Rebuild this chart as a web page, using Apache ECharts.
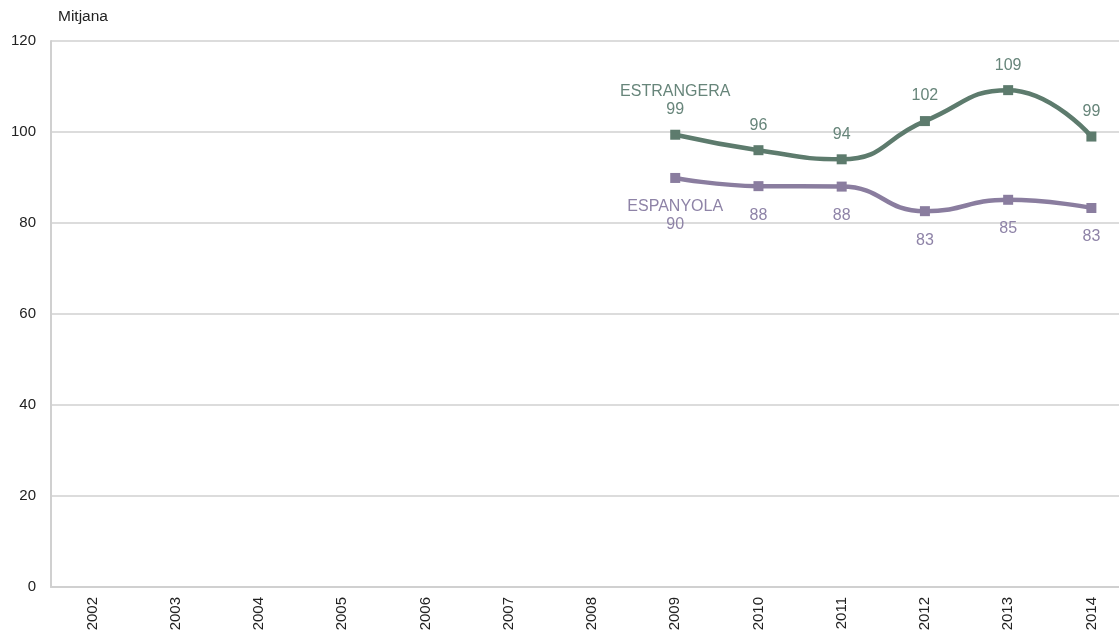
<!DOCTYPE html>
<html>
<head>
<meta charset="utf-8">
<script src="https://cdn.jsdelivr.net/npm/echarts@6/dist/echarts.min.js"></script>
<style>
html,body{margin:0;padding:0;background:#fff;overflow:hidden;}
#chart{width:1140px;height:634px;}
</style>
</head>
<body>
<div id="chart"></div>
<script>
const years = ['2002','2003','2004','2005','2006','2007','2008','2009','2010','2011','2012','2013','2014'];
const estrangera = [null,null,null,null,null,null,null,99.4,96.0,94.0,102.4,109.2,99.0];
const espanyola = [null,null,null,null,null,null,null,89.9,88.1,88.0,82.6,85.1,83.3];
const yTicks = [0,20,40,60,80,100,120];

const FONT = 'Liberation Sans, Arial, sans-serif';
const chart = echarts.init(document.getElementById('chart'));

function firstIdx(arr){ return arr.findIndex(v => v !== null); }

function mkSeries(name, data, lineColor, textColor, pos, dist){
  const fi = firstIdx(data);
  return {
    name: name,
    type: 'line',
    data: data,
    smooth: 0.5,
    connectNulls: false,
    symbol: 'rect',
    symbolSize: 10,
    lineStyle: {width: 4.5, color: lineColor},
    itemStyle: {color: lineColor},
    label: {
      show: true,
      position: pos,
      distance: dist,
      color: textColor,
      fontFamily: FONT,
      fontSize: 16,
      lineHeight: 18,
      align: 'center',
      formatter: p => (p.dataIndex === fi ? name + '\n' : '') + Math.round(p.value)
    },
    emphasis: {disabled: true},
    z: 3
  };
}

chart.setOption({
  animation: false,
  backgroundColor: '#fff',
  grid: {left: 51, top: 41, width: 1082, height: 546, containLabel: false},
  graphic: [{
    type: 'text', left: 58, top: 9,
    style: {text: 'Mitjana', font: '15.5px ' + FONT, fill: '#222'}
  }],
  xAxis: {
    type: 'category',
    data: years,
    boundaryGap: true,
    axisLine: {show: true, lineStyle: {color: '#d0d0d0', width: 2}},
    axisTick: {show: false},
    axisLabel: {rotate: 90, color: '#222', fontFamily: FONT, fontSize: 15, margin: 10, interval: 0}
  },
  yAxis: {
    type: 'value',
    min: 0, max: 120, interval: 20,
    axisLine: {show: true, lineStyle: {color: '#d0d0d0', width: 2}},
    axisTick: {show: false},
    splitLine: {lineStyle: {color: '#d0d0d0', width: 1.5}},
    axisLabel: {color: '#222', fontFamily: FONT, fontSize: 15, margin: 15,
      formatter: v => yTicks.includes(v) ? String(v) : ''}
  },
  series: [
    mkSeries('ESTRANGERA', estrangera, '#5d7b6d', '#67857a', 'top', 11),
    mkSeries('ESPANYOLA', espanyola, '#8a7d9f', '#8e83a7', 'bottom', 15)
  ]
});
</script>
</body>
</html>
